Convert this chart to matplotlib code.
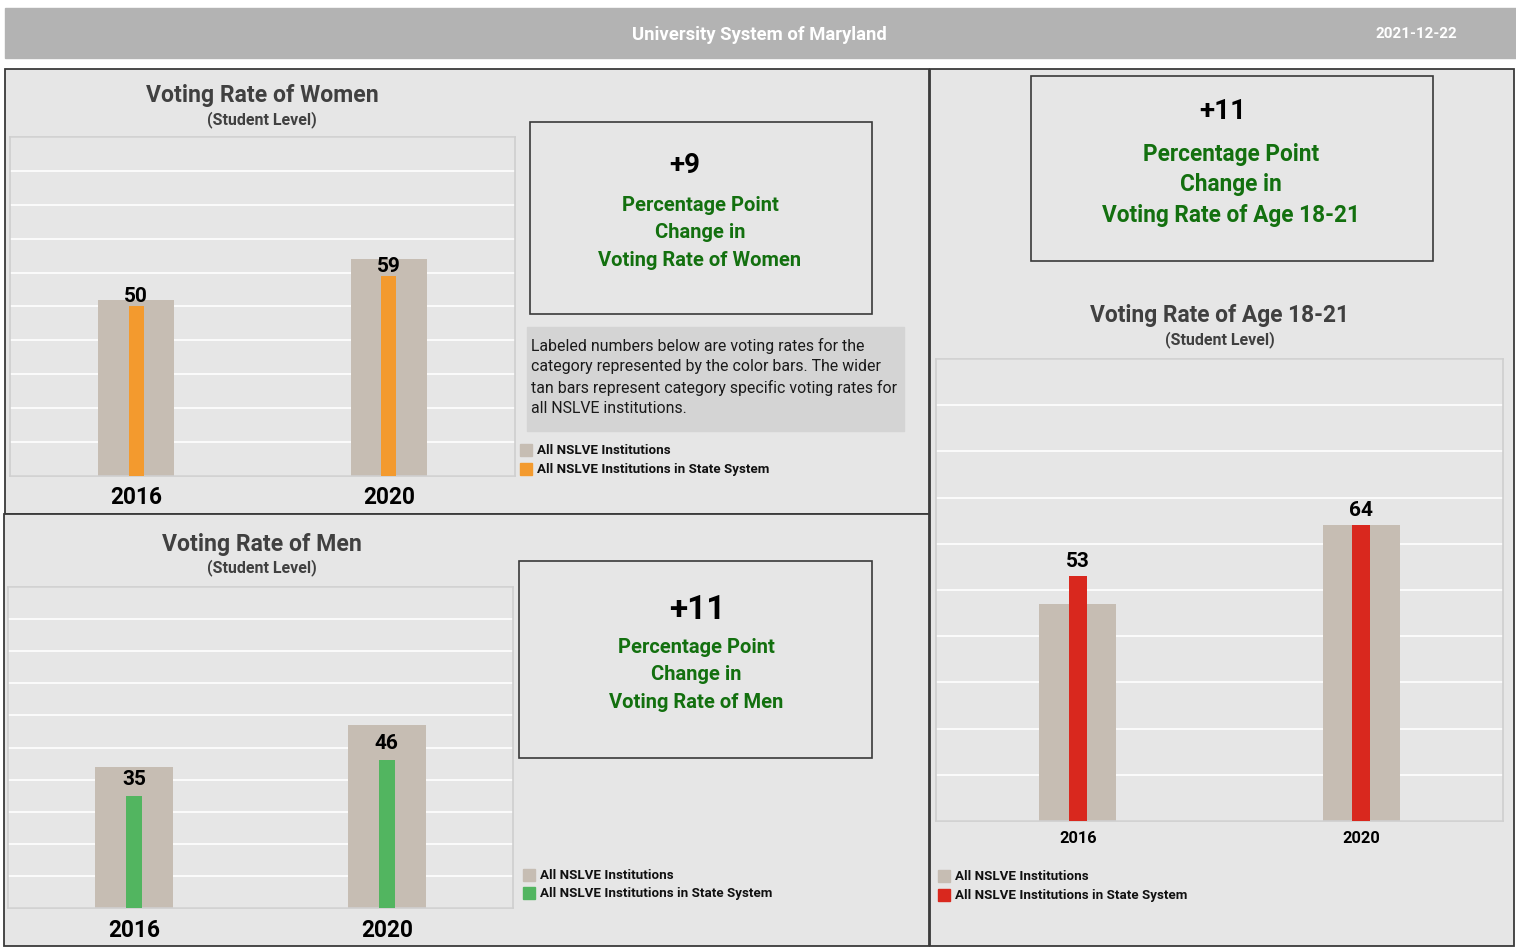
import matplotlib.pyplot as plt
from matplotlib.patches import Rectangle

plt.rcParams['font.family'] = ['Roboto', 'DejaVu Sans']

W, H = 1516, 947

years = ['2016', '2020']
women_all = [52, 64]
women_state = [50, 59]
men_all = [44, 57]
men_state = [35, 46]
age_all = [47, 64]
age_state = [53, 64]

legend_labels = ['All NSLVE Institutions', 'All NSLVE Institutions in State System']
note = ("Labeled numbers below are voting rates for the\n"
        "category represented by the color bars. The wider\n"
        "tan bars represent category specific voting rates for\n"
        "all NSLVE institutions.")

TAN = '#c6bdb3'
PANEL = '#e6e6e6'
GREEN_TXT = '#13700f'


def px(x0, y0, x1, y1):
    return [x0 / W, 1 - y1 / H, (x1 - x0) / W, (y1 - y0) / H]


fig = plt.figure(figsize=(W / 100, H / 100), dpi=100)
bg = fig.add_axes([0, 0, 1, 1])
bg.set_xlim(0, W)
bg.set_ylim(H, 0)
bg.axis('off')

# header
bg.add_patch(Rectangle((5, 8), W - 5, 50, color='#b3b3b3'))
bg.text(759, 35, 'University System of Maryland', color='white', fontsize=13.3,
        fontweight='bold', ha='center', va='center')
bg.text(1416, 34, '2021-12-22', color='white', fontsize=11,
        fontweight='bold', ha='center', va='center')

# panels
for (x0, y0, x1, y1) in [(5, 69, 929, 514), (4, 514, 929, 946), (930, 69, 1514, 946)]:
    bg.add_patch(Rectangle((x0, y0), x1 - x0, y1 - y0, facecolor=PANEL,
                           edgecolor='#3a3a3a', lw=1.3))


def bar_chart(rect, all_vals, state_vals, color, wide, narrow, xfs, lab_off, pad):
    ax = fig.add_axes(px(*rect))
    ax.set_facecolor(PANEL)
    x = range(len(years))
    ax.bar(x, all_vals, width=wide, color=TAN, zorder=2)
    ax.bar(x, state_vals, width=narrow, color=color, zorder=3)
    for xi, v in zip(x, state_vals):
        ax.annotate(str(v), (xi, v), xytext=(0, lab_off), textcoords='offset points',
                    ha='center', va='bottom', fontsize=15, fontweight='bold', color='black')
    ax.set_xlim(-0.5, 1.5)
    ax.set_ylim(0, 100)
    ax.set_yticks(range(0, 101, 10))
    ax.yaxis.grid(True, color='white', lw=1.2, zorder=0)
    ax.set_axisbelow(True)
    ax.tick_params(axis='y', left=False, labelleft=False)
    ax.set_xticks(list(x))
    ax.set_xticklabels(years, fontsize=xfs, fontweight='bold')
    ax.tick_params(axis='x', length=0, pad=pad)
    for s in ax.spines.values():
        s.set_color('#cfcfcf')
        s.set_linewidth(1.2)
    return ax


def change_box(rect, big, lines, bigfs, fs, bx, by, lx, ly, dy):
    x0, y0, x1, y1 = rect
    bg.add_patch(Rectangle((x0, y0), x1 - x0, y1 - y0, facecolor='none',
                           edgecolor='#3a3a3a', lw=1.2))
    bg.text(bx, by, big, fontsize=bigfs, fontweight='bold', ha='center', va='center')
    for i, t in enumerate(lines):
        bg.text(lx, ly + i * dy, t, fontsize=fs, fontweight='bold', color=GREEN_TXT,
                ha='center', va='center')


def legend(x, y, color, dy, fs):
    for i, (lab, c) in enumerate(zip(legend_labels, [TAN, color])):
        bg.add_patch(Rectangle((x, y + i * dy - 6), 12, 12, color=c))
        bg.text(x + 17, y + i * dy, lab, fontsize=fs, fontweight='bold',
                ha='left', va='center', color='#111111')


# Women
bg.text(262, 95, 'Voting Rate of Women', fontsize=16.6, fontweight='bold',
        color='#404040', ha='center', va='center')
bg.text(262, 120, '(Student Level)', fontsize=11.5, fontweight='bold',
        color='#404040', ha='center', va='center')
bar_chart((10, 137, 515, 476), women_all, women_state, '#f39a2e', 0.3, 0.06, 16.3, 0, 7.5)
change_box((530, 122, 872, 314), '+9',
           ['Percentage Point', 'Change in', 'Voting Rate of Women'],
           20, 14.5, 685, 165, 700, 205, 27.5)
bg.add_patch(Rectangle((527, 327), 377, 104, color='#d4d4d4'))
bg.text(531, 338, note, fontsize=11.4, ha='left', va='top', linespacing=1.43,
        color='#1a1a1a')
legend(520, 450, '#f39a2e', 19, 9.6)

# Men
bg.text(262, 544, 'Voting Rate of Men', fontsize=16.6, fontweight='bold',
        color='#404040', ha='center', va='center')
bg.text(262, 568, '(Student Level)', fontsize=11.5, fontweight='bold',
        color='#404040', ha='center', va='center')
bar_chart((8, 587, 513, 908), men_all, men_state, '#52b560', 0.31, 0.065, 16.3, 5, 8)
change_box((519, 561, 872, 758), '+11',
           ['Percentage Point', 'Change in', 'Voting Rate of Men'],
           24, 14.5, 697, 610, 696, 647, 27.5)
legend(523, 875, '#52b560', 18, 9.6)

# Age 18-21
change_box((1031, 76, 1433, 261), '+11',
           ['Percentage Point', 'Change in', 'Voting Rate of Age 18-21'],
           20, 16.3, 1223, 111, 1231, 154, 30.5)
bg.text(1220, 315, 'Voting Rate of Age 18-21', fontsize=16.4, fontweight='bold',
        color='#404040', ha='center', va='center')
bg.text(1220, 340, '(Student Level)', fontsize=11.5, fontweight='bold',
        color='#404040', ha='center', va='center')
bar_chart((936, 359, 1503, 821), age_all, age_state, '#d9281e', 0.27, 0.063, 11.8, 3.5, 7)
legend(938, 876, '#d9281e', 19, 9.6)

fig.savefig('out.png', dpi=100)
